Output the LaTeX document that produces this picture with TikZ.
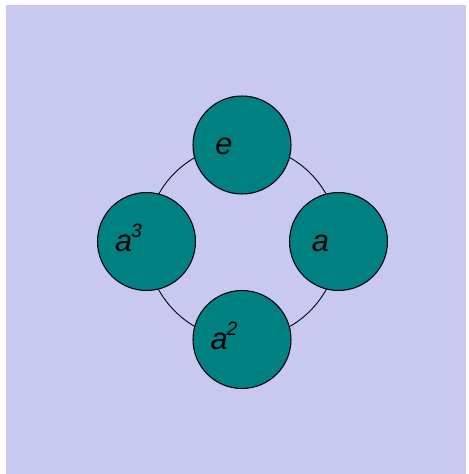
\documentclass[tikz,border=0pt]{standalone}
\usepackage{fontspec}
\setsansfont{Liberation Sans}
\usetikzlibrary{backgrounds}
\definecolor{cycleTeal}{RGB}{0,128,128}
\definecolor{cycleLavender}{RGB}{200,200,240}
\newcommand{\grpexp}[1]{\kern-0.5pt\raisebox{8pt}{\fontsize{11}{12}\selectfont #1}}

\begin{document}
\begin{tikzpicture}[x=0.02cm, y=0.02cm,
      element/.style={circle, draw=black, line width=0.6pt, fill=cycleTeal, minimum size=1.96cm, inner sep=0pt,
      label={[text height=15pt, text depth=0pt, xshift=-0.36cm, yshift=0.065cm, font=\sffamily\itshape\fontsize{17.5}{20}\selectfont]center:#1}},
      link/.style={line width=0.5pt, draw=black}
    ]
    \useasboundingbox (0,0) rectangle (469,474);

    \node[element={e}] (e) at (242,329) {};
    \node[element={a\grpexp{3}}] (a3) at (146.5,232.5) {};
    \node[element={a\grpexp{2}}] (a2) at (242,134.5) {};
    \node[element={a}] (a) at (338.5,232.5) {};

    \begin{scope}[on background layer]
      \fill[cycleLavender] (6,0) rectangle (466,469);
      \draw[link] (e.center) to[bend right=45] (a3.center);
      \draw[link] (a3.center) to[bend right=45] (a2.center);
      \draw[link] (a2.center) to[bend right=45] (a.center);
      \draw[link] (a.center) to[bend right=45] (e.center);
    \end{scope}
  \end{tikzpicture}
\end{document}
